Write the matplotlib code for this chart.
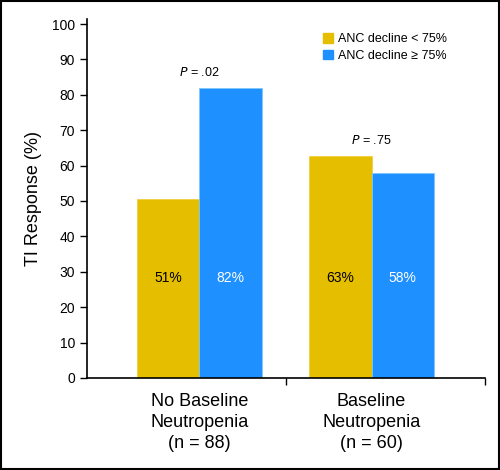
"""Recreate the TI response bar chart by baseline neutropenia."""

import matplotlib

matplotlib.use("Agg")
import matplotlib.pyplot as plt
from matplotlib.patches import Patch, Rectangle

groups = ["No Baseline\nNeutropenia\n(n = 88)", "Baseline\nNeutropenia\n(n = 60)"]
series = ["ANC decline < 75%", "ANC decline \u2265 75%"]
low_decline = [50.6, 62.6]
high_decline = [81.8, 57.8]
bar_labels_low = ["51%", "63%"]
bar_labels_high = ["82%", "58%"]
p_values = [".02", ".75"]

yellow = "#E6BE00"
blue = "#1F90FF"

plt.rcParams["font.family"] = ["Liberation Sans", "DejaVu Sans"]

fig = plt.figure(figsize=(5.0, 4.7), dpi=100)
ax = fig.add_axes([0.174, 0.196, 0.796, 0.764])

centers = [0.565, 1.43]
width = 0.314

for i, c in enumerate(centers):
    ax.bar(c - width / 2, low_decline[i], width, color=yellow,
           edgecolor="#F0D040", linewidth=0.6)
    ax.bar(c + width / 2, high_decline[i], width, color=blue,
           edgecolor="#7CC8FF", linewidth=0.6)
    ax.text(c - width / 2, 28.3, bar_labels_low[i], ha="center", va="center",
            fontsize=10, color="black")
    ax.text(c + width / 2, 28.3, bar_labels_high[i], ha="center", va="center",
            fontsize=10, color="white")
    top = max(low_decline[i], high_decline[i])
    ax.text(c, top + 4.5, "$\\it{P}$ = " + p_values[i], ha="center",
            va="center", fontsize=9)

ax.set_xlim(0, 2)
ax.set_ylim(0, 101.5)
ax.set_yticks(range(0, 101, 10))
ax.set_xticks([1, 2])
ax.set_xticklabels([])
for c, g in zip(centers, groups):
    ax.text(c, -4.3, g, ha="center", va="top", fontsize=13, linespacing=1.3)

ax.set_ylabel("TI Response (%)", fontsize=13, labelpad=7)
ax.tick_params(axis="y", labelsize=10, length=5, width=1, direction="out")
ax.tick_params(axis="x", length=5, width=1)
ax.spines["top"].set_visible(False)
ax.spines["right"].set_visible(False)
for s in ("left", "bottom"):
    ax.spines[s].set_linewidth(1.2)

handles = [Patch(color=yellow), Patch(color=blue)]
ax.legend(handles, series, loc="upper left", bbox_to_anchor=(0.593, 0.96),
          frameon=False, fontsize=9, handlelength=0.8, handleheight=0.8,
          handletextpad=0.4, labelspacing=0.35, borderpad=0,
          borderaxespad=0)

fig.patches.append(Rectangle((0.002, 0.002), 0.996, 0.996,
                             transform=fig.transFigure, fill=False,
                             edgecolor="black", linewidth=1.5))

fig.savefig("out.png", dpi=100)
plt.close(fig)
